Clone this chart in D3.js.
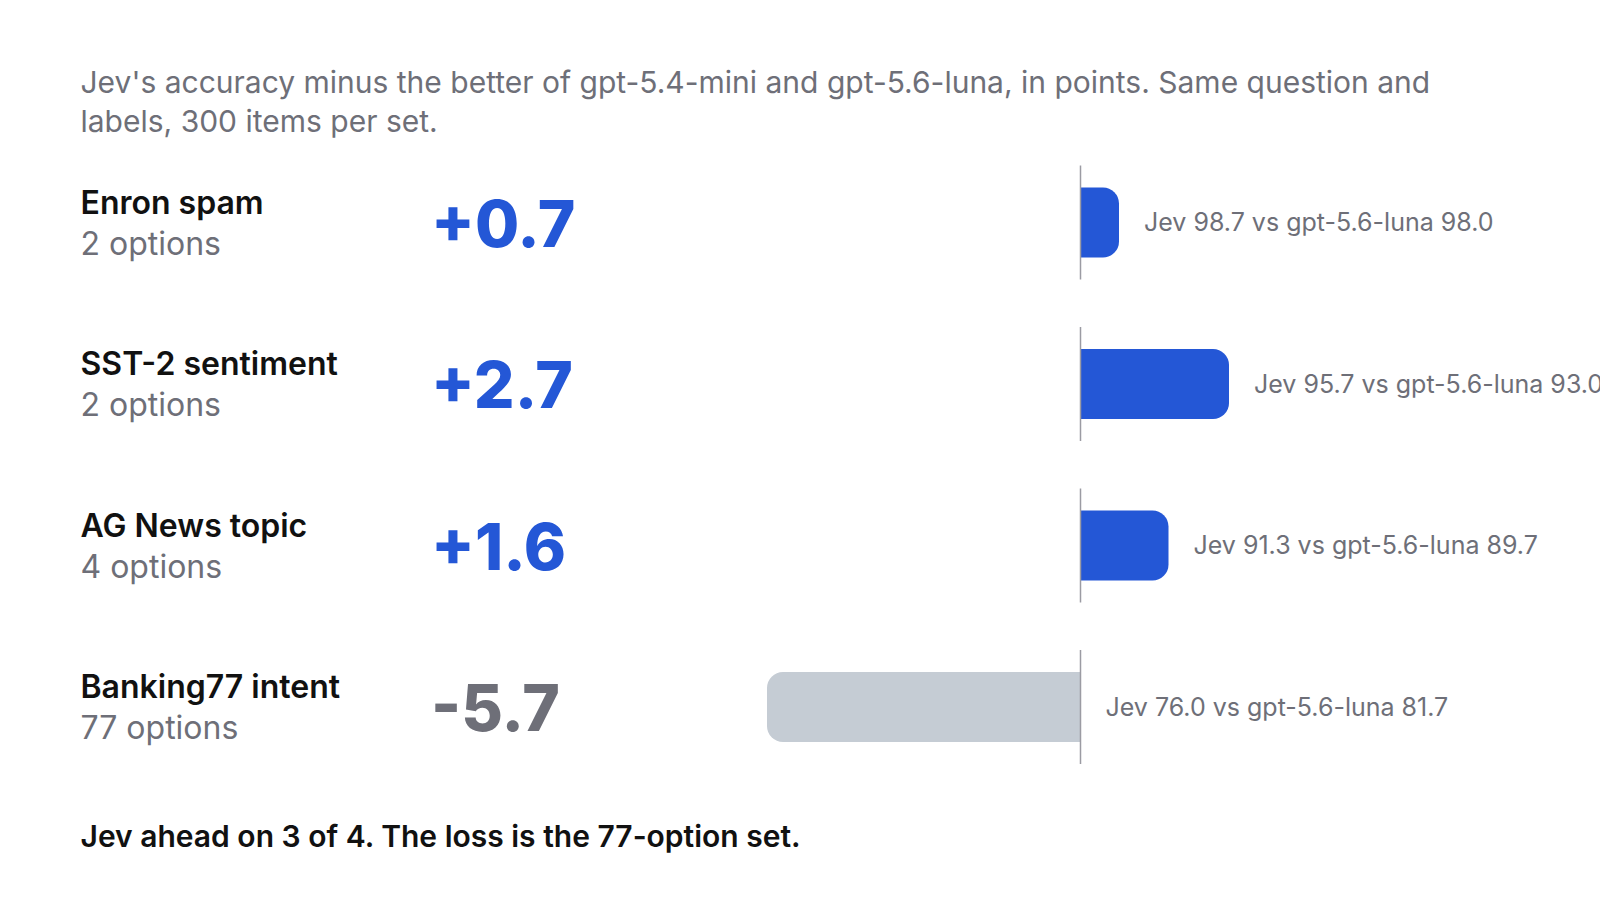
<!DOCTYPE html>
<html>
<head>
<meta charset="utf-8">
<script src="https://cdn.jsdelivr.net/npm/d3@7"></script>
<style>
  body { margin: 0; background: #fff; }
  svg { font-family: Inter, "Noto Sans", sans-serif; }
</style>
</head>
<body>
<svg id="chart" width="1600" height="900"></svg>
<script>
// data
var sets = ["Enron spam", "SST-2 sentiment", "AG News topic", "Banking77 intent"];
var options = [2, 2, 4, 77];
var jev = [98.7, 95.7, 91.3, 76.0];
var rival = [98.0, 93.0, 89.7, 81.7];
var rivalName = ["gpt-5.6-luna", "gpt-5.6-luna", "gpt-5.6-luna", "gpt-5.6-luna"];
var delta = [0.7, 2.7, 1.6, -5.7];

var subtitle = ["Jev's accuracy minus the better of gpt-5.4-mini and gpt-5.6-luna, in points. Same question and",
                "labels, 300 items per set."];
var footer = "Jev ahead on 3 of 4. The loss is the 77-option set.";

var blue = "#2457d6", greyBar = "#c5ccd4", greyText = "#6e6f78", ink = "#111111";

var svg = d3.select("svg#chart");

var data = sets.map(function(s, i) {
  return {set: s, options: options[i], jev: jev[i], rival: rival[i], name: rivalName[i], delta: delta[i]};
});

// 55px per point, zero at ~1080
var x = d3.scaleLinear().domain([-6, 8]).range([750.5, 1520.5]);
var y = d3.scaleBand().domain(sets).range([141.75, 787.75]).paddingInner(0.3).paddingOuter(0.15);

// subtitle
svg.append("g").selectAll("text")
  .data(subtitle)
  .enter().append("text")
    .attr("x", 80.5)
    .attr("y", function(d, i) { return 93 + i * 39; })
    .attr("fill", greyText)
    .style("font-size", "30px")
    .text(function(d) { return d; });

var row = svg.append("g").selectAll(".row")
  .data(data)
  .enter().append("g")
    .attr("class", "row")
    .attr("transform", function(d) { return "translate(0," + (y(d.set) + y.bandwidth() / 2) + ")"; });

row.append("text")
    .attr("x", 80.5)
    .attr("y", -9)
    .attr("fill", ink)
    .style("font-size", "32px")
    .style("font-weight", 600)
    .text(function(d) { return d.set; });

row.append("text")
    .attr("x", 80.5)
    .attr("y", 32)
    .attr("fill", greyText)
    .style("font-size", "32px")
    .text(function(d) { return d.options + " options"; });

row.append("text")
    .attr("x", 431)
    .attr("y", 24)
    .attr("fill", function(d) { return d.delta >= 0 ? blue : greyText; })
    .style("font-size", "64px")
    .style("font-weight", 800)
    .text(function(d) { return (d.delta >= 0 ? "+" : "-") + Math.abs(d.delta).toFixed(1); });

// bar rounded only on its outer end
function barPath(d) {
  var h = 70, r = 16, x0 = x(0), x1 = x(d.delta);
  var p = d3.path(), s = x1 >= x0 ? 1 : -1;
  p.moveTo(x0, -h / 2);
  p.arcTo(x1, -h / 2, x1, 0, r);
  p.arcTo(x1, h / 2, x0, h / 2, r);
  p.lineTo(x0, h / 2);
  p.closePath();
  return p.toString();
}

row.append("path")
    .attr("d", barPath)
    .attr("fill", function(d) { return d.delta >= 0 ? blue : greyBar; });

row.append("line")
    .attr("x1", x(0)).attr("x2", x(0))
    .attr("y1", -57).attr("y2", 57)
    .attr("stroke", "#9b9ba3")
    .attr("stroke-width", 1.5);

row.append("text")
    .attr("x", function(d) { return Math.max(x(d.delta), x(0)) + 25; })
    .attr("dy", "0.35em")
    .attr("fill", greyText)
    .style("font-size", "25px")
    .text(function(d) { return "Jev " + d.jev.toFixed(1) + " vs " + d.name + " " + d.rival.toFixed(1); });

svg.append("text")
    .attr("x", 80.5)
    .attr("y", 847)
    .attr("fill", ink)
    .style("font-size", "30px")
    .style("font-weight", 600)
    .text(footer);
</script>
</body>
</html>
